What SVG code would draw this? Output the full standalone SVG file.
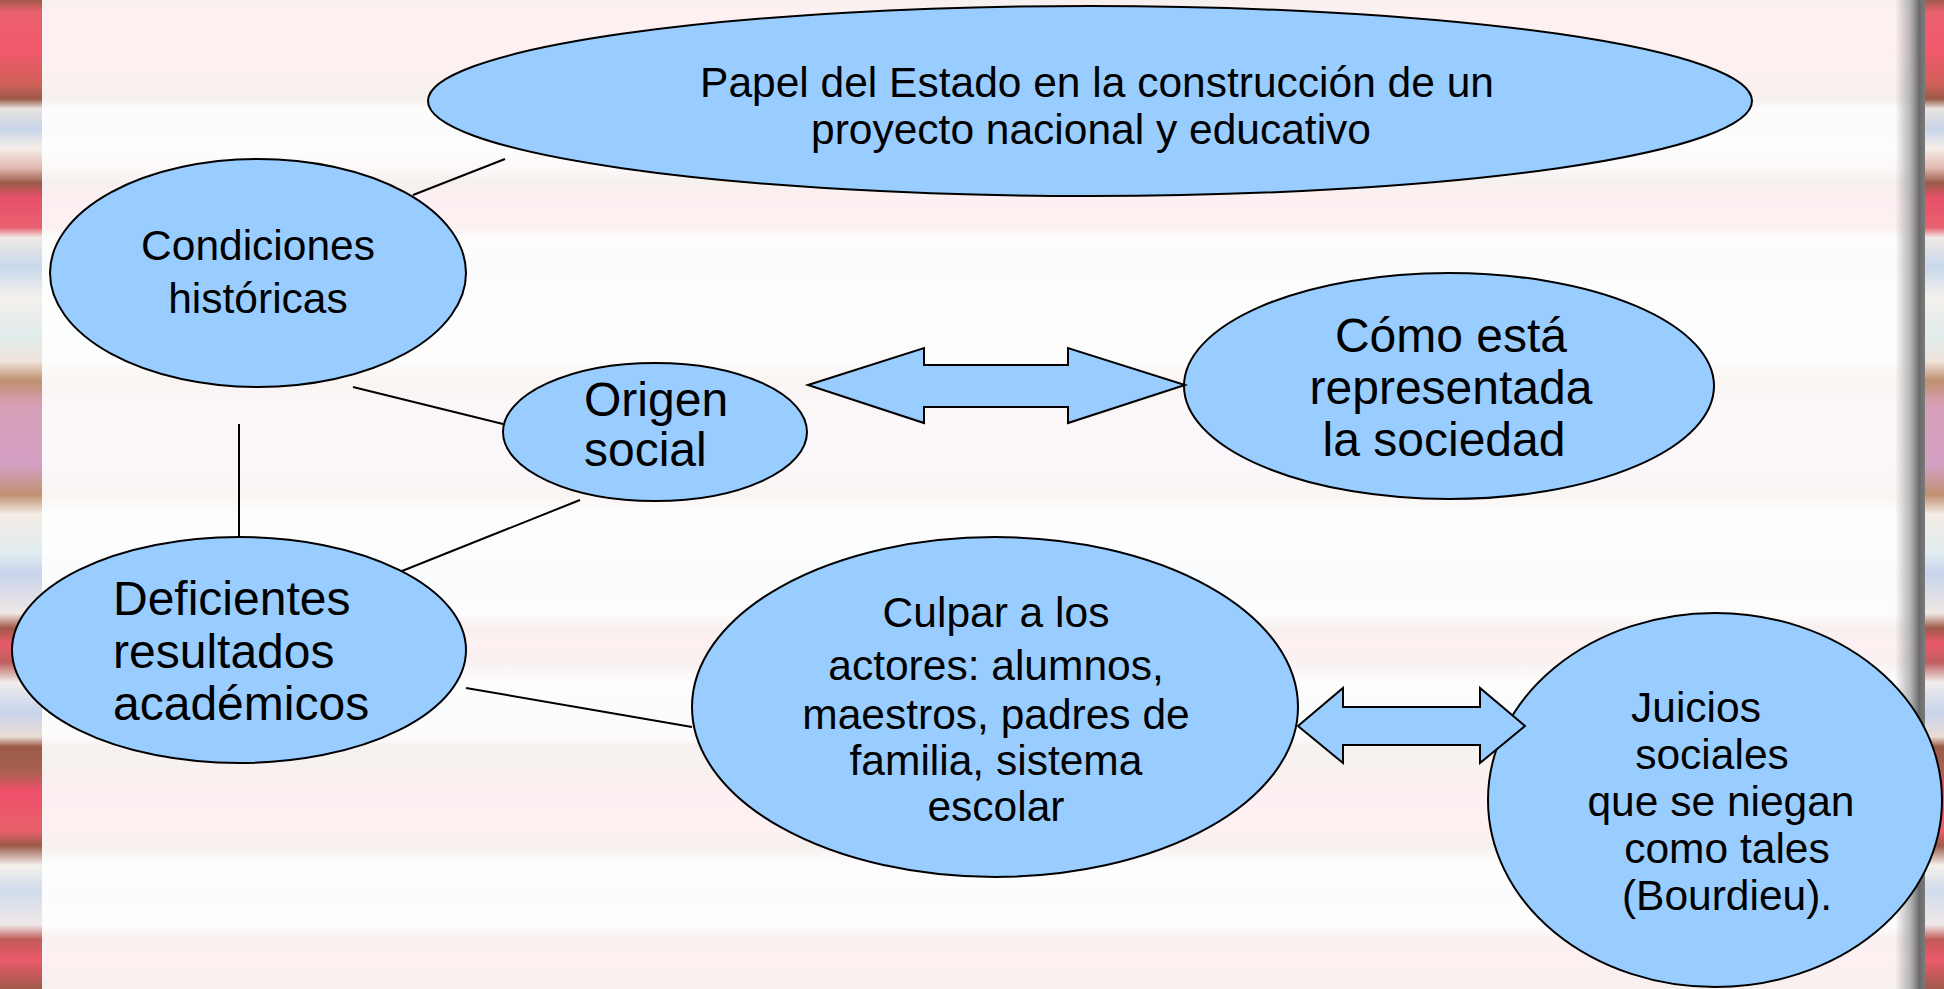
<svg xmlns="http://www.w3.org/2000/svg" width="1944" height="989" viewBox="0 0 1944 989">
<defs>
<linearGradient id="stripes" gradientUnits="userSpaceOnUse" x1="0" y1="0" x2="0" y2="989">
<stop offset="0" stop-color="#a05a4a"/>
<stop offset="0.012" stop-color="#e8606e"/>
<stop offset="0.05" stop-color="#f3586c"/>
<stop offset="0.085" stop-color="#d06058"/>
<stop offset="0.1" stop-color="#9a5a48"/>
<stop offset="0.11" stop-color="#e8e4e0"/>
<stop offset="0.13" stop-color="#c8d4e8"/>
<stop offset="0.15" stop-color="#f4eee8"/>
<stop offset="0.17" stop-color="#e0b8b0"/>
<stop offset="0.185" stop-color="#9a5a48"/>
<stop offset="0.2" stop-color="#e85068"/>
<stop offset="0.23" stop-color="#e86070"/>
<stop offset="0.24" stop-color="#f0e8e4"/>
<stop offset="0.27" stop-color="#c8d8ec"/>
<stop offset="0.3" stop-color="#f4f0ec"/>
<stop offset="0.34" stop-color="#e0ecec"/>
<stop offset="0.365" stop-color="#f0e4dc"/>
<stop offset="0.385" stop-color="#c09070"/>
<stop offset="0.41" stop-color="#d8a0b8"/>
<stop offset="0.47" stop-color="#d4a0c4"/>
<stop offset="0.5" stop-color="#c09070"/>
<stop offset="0.52" stop-color="#f4ece4"/>
<stop offset="0.56" stop-color="#e0ecf0"/>
<stop offset="0.58" stop-color="#c8d4ec"/>
<stop offset="0.62" stop-color="#f0e8e4"/>
<stop offset="0.635" stop-color="#a05a48"/>
<stop offset="0.65" stop-color="#e85a6c"/>
<stop offset="0.67" stop-color="#c06060"/>
<stop offset="0.69" stop-color="#f0ecec"/>
<stop offset="0.72" stop-color="#c8d4ec"/>
<stop offset="0.745" stop-color="#e8dcd4"/>
<stop offset="0.755" stop-color="#9a5a48"/>
<stop offset="0.78" stop-color="#a86050"/>
<stop offset="0.8" stop-color="#f0506a"/>
<stop offset="0.84" stop-color="#e8606c"/>
<stop offset="0.855" stop-color="#9a5a48"/>
<stop offset="0.875" stop-color="#f4f0ec"/>
<stop offset="0.9" stop-color="#d0dcec"/>
<stop offset="0.935" stop-color="#f0e8e8"/>
<stop offset="0.95" stop-color="#c05a58"/>
<stop offset="0.97" stop-color="#ec5a6c"/>
<stop offset="1" stop-color="#a05a4a"/>
</linearGradient>
<linearGradient id="shadow" x1="0" y1="0" x2="1" y2="0">
<stop offset="0" stop-color="#999" stop-opacity="0"/>
<stop offset="0.5" stop-color="#9a9a9a" stop-opacity="0.7"/>
<stop offset="0.8" stop-color="#6a6a6a"/>
<stop offset="1" stop-color="#7a7a7a"/>
</linearGradient>
<style>
.node ellipse{fill:#99ccff;stroke:#000;stroke-width:2}
.arrow{fill:#99ccff;stroke:#000;stroke-width:2;stroke-linejoin:miter}
.conn line{stroke:#000;stroke-width:2}
text{font-family:"Liberation Sans",Arial,sans-serif;fill:#000}
.t42{font-size:42.5px}
.t48{font-size:48px}
</style>
</defs>
<g id="background">
<rect x="0" y="0" width="1944" height="989" fill="#ffffff"/>
<rect x="0" y="0" width="1944" height="989" fill="url(#stripes)" opacity="0.09"/>
<rect x="0" y="0" width="42" height="989" fill="url(#stripes)"/>
<rect x="1895" y="0" width="30" height="989" fill="url(#shadow)"/>
<rect x="1925" y="0" width="19" height="989" fill="url(#stripes)"/>
</g>
<g class="conn" id="connectors">
<line x1="413" y1="195" x2="505" y2="159"/>
<line x1="353" y1="387" x2="503" y2="424"/>
<line x1="239" y1="424" x2="239" y2="537"/>
<line x1="392" y1="575" x2="580" y2="500"/>
<line x1="466" y1="688" x2="692" y2="727"/>
</g>
<g class="node" id="n-papel">
<ellipse cx="1090" cy="101" rx="662" ry="95"/>
<text class="t42" text-anchor="middle"><tspan x="1097" y="97">Papel del Estado en la construcción de un</tspan><tspan x="1091" y="144">proyecto nacional y educativo</tspan></text>
</g>
<g class="node" id="n-condiciones">
<ellipse cx="258" cy="273" rx="208" ry="114"/>
<text class="t42" text-anchor="middle"><tspan x="258" y="260">Condiciones</tspan><tspan x="258" y="313">históricas</tspan></text>
</g>
<g class="node" id="n-origen">
<ellipse cx="655" cy="432" rx="152" ry="69"/>
<text class="t48"><tspan x="584" y="416">Origen</tspan><tspan x="584" y="466">social</tspan></text>
</g>
<g class="node" id="n-como">
<ellipse cx="1449" cy="386" rx="265" ry="113"/>
<text class="t48" text-anchor="middle"><tspan x="1451" y="352">Cómo está</tspan><tspan x="1451" y="404">representada</tspan><tspan x="1444" y="456">la sociedad</tspan></text>
</g>
<g class="node" id="n-deficientes">
<ellipse cx="239" cy="650" rx="227" ry="113"/>
<text class="t48"><tspan x="113" y="615">Deficientes</tspan><tspan x="113" y="668">resultados</tspan><tspan x="113" y="720">académicos</tspan></text>
</g>
<g class="node" id="n-culpar">
<ellipse cx="995" cy="707" rx="303" ry="170"/>
<text class="t42" text-anchor="middle"><tspan x="996" y="627">Culpar a los</tspan><tspan x="996" y="680">actores: alumnos,</tspan><tspan x="996" y="729">maestros, padres de</tspan><tspan x="996" y="775">familia, sistema</tspan><tspan x="996" y="821">escolar</tspan></text>
</g>
<g class="node" id="n-juicios">
<ellipse cx="1715" cy="800" rx="227" ry="187"/>
<text class="t42" text-anchor="middle"><tspan x="1696" y="722">Juicios</tspan><tspan x="1712" y="769">sociales</tspan><tspan x="1721" y="816">que se niegan</tspan><tspan x="1727" y="863">como tales</tspan><tspan x="1727" y="910">(Bourdieu).</tspan></text>
</g>
<g class="conn" id="arrows">
<polygon class="arrow" points="808,385 924,348 924,365 1068,365 1068,348 1185,385 1068,423 1068,407 924,407 924,423"/>
<polygon class="arrow" points="1298,726 1343,688 1343,707 1480,707 1480,688 1525,726 1480,763 1480,745 1343,745 1343,763"/>
</g>
</svg>
